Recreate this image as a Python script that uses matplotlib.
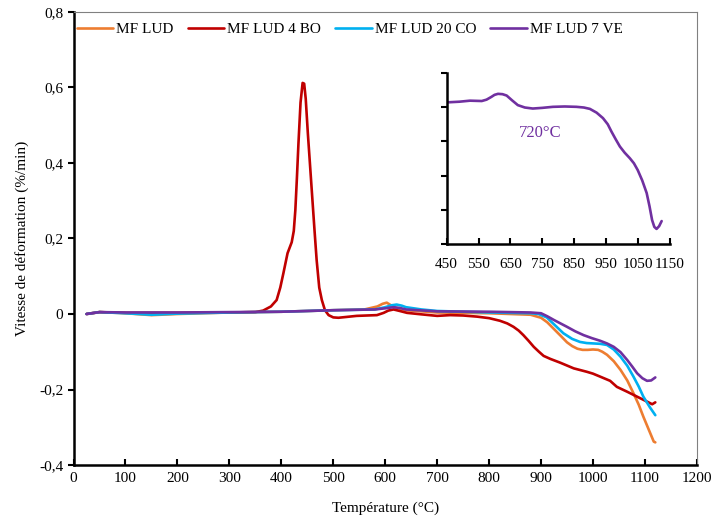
"""Vitesse de déformation des mélanges MF LUD en fonction de la température."""

import matplotlib
matplotlib.use("Agg")
import matplotlib.pyplot as plt
from matplotlib.ticker import FuncFormatter

# MF LUD
temp_lud = [25, 50, 100, 150, 200, 300, 400, 500, 560, 585, 595, 603, 610, 616, 640, 700, 800,
            880, 900, 912, 925, 938, 950, 960, 970, 980, 990, 1000, 1010, 1018, 1027, 1040, 1053,
            1066, 1078, 1088, 1097, 1107, 1117, 1120]
vit_lud = [0, 0.005, 0.002, -0.003, 0, 0.004, 0.006, 0.01, 0.012, 0.02, 0.027, 0.03, 0.024, 0.018,
           0.01, 0.004, 0.002, -0.002, -0.01, -0.022, -0.04, -0.058, -0.075, -0.085, -0.092,
           -0.095, -0.095, -0.094, -0.095, -0.1, -0.108, -0.125, -0.148, -0.176, -0.21, -0.24,
           -0.272, -0.305, -0.338, -0.34]

# MF LUD 4 BO
temp_bo = [25, 50, 100, 200, 300, 350, 365, 380, 391, 398, 404, 412, 420, 424, 427, 430, 433, 437,
           441, 444, 447, 451, 455, 459, 464, 468, 473, 478, 484, 491, 500, 510, 545, 584, 597,
           606, 616, 628, 642, 670, 700, 725, 750, 777, 800, 821, 835, 847, 857, 866, 876, 886,
           896, 905, 918, 937, 963, 988, 1000, 1014, 1033, 1046, 1066, 1085, 1104, 1114, 1120]
vit_bo = [0, 0.005, 0.003, 0.003, 0.004, 0.005, 0.009, 0.02, 0.037, 0.07, 0.108, 0.161, 0.19, 0.22,
          0.275, 0.36, 0.452, 0.56, 0.612, 0.61, 0.57, 0.48, 0.4, 0.32, 0.22, 0.143, 0.07, 0.037,
          0.01, -0.003, -0.009, -0.01, -0.005, -0.003, 0.003, 0.009, 0.012, 0.008, 0.003, -0.001,
          -0.005, -0.003, -0.004, -0.007, -0.011, -0.018, -0.025, -0.034, -0.044, -0.056, -0.071,
          -0.087, -0.1, -0.111, -0.119, -0.129, -0.144, -0.153, -0.158, -0.166, -0.177, -0.193,
          -0.206, -0.219, -0.232, -0.239, -0.234]

# MF LUD 20 CO
temp_co = [25, 50, 100, 150, 200, 300, 400, 500, 580, 600, 612, 622, 632, 640, 670, 700, 800, 880,
           895, 911, 927, 943, 960, 975, 988, 1001, 1014, 1027, 1040, 1053, 1066, 1078, 1088, 1097,
           1110, 1120]
vit_co = [0, 0.005, 0.002, -0.002, 0.001, 0.004, 0.006, 0.01, 0.012, 0.018, 0.023, 0.025, 0.022,
          0.018, 0.012, 0.008, 0.004, 0.002, 0, -0.009, -0.03, -0.051, -0.066, -0.074, -0.077,
          -0.078, -0.079, -0.082, -0.094, -0.113, -0.137, -0.166, -0.192, -0.219, -0.248, -0.268]

# MF LUD 7 VE
temp_ve = [25, 50, 100, 200, 300, 400, 500, 580, 600, 616, 628, 640, 700, 800, 880, 900, 912, 925,
           950, 966, 982, 998, 1014, 1027, 1040, 1053, 1066, 1076, 1085, 1095, 1104, 1112, 1120]
vit_ve = [0, 0.005, 0.004, 0.004, 0.005, 0.006, 0.01, 0.012, 0.015, 0.018, 0.016, 0.012, 0.007,
          0.006, 0.004, 0.002, -0.006, -0.016, -0.034, -0.046, -0.056, -0.064, -0.071, -0.078,
          -0.087, -0.101, -0.122, -0.14, -0.157, -0.17, -0.177, -0.176, -0.168]

# encart (MF LUD 7 VE, 450-1125 °C)
temp_zoom = [450, 490, 523, 560, 575, 590, 600, 611, 625, 638, 655, 673, 695, 720, 750, 783, 820,
             857, 880, 899, 920, 940, 955, 967, 980, 993, 1008, 1024, 1037, 1049, 1063, 1077,
             1086, 1094, 1101, 1108, 1116, 1124]
vit_zoom = [4.14, 4.16, 4.19, 4.18, 4.22, 4.3, 4.36, 4.39, 4.38, 4.34, 4.2, 4.06, 3.99, 3.96, 3.98,
            4.01, 4.02, 4.01, 3.99, 3.95, 3.84, 3.68, 3.5, 3.28, 3.06, 2.85, 2.67, 2.51, 2.36,
            2.16, 1.86, 1.49, 1.1, 0.70, 0.5, 0.44, 0.52, 0.67]

series = [
    ("MF LUD", temp_lud, vit_lud, "#ED7D31"),
    ("MF LUD 4 BO", temp_bo, vit_bo, "#C00000"),
    ("MF LUD 20 CO", temp_co, vit_co, "#00B0F0"),
    ("MF LUD 7 VE", temp_ve, vit_ve, "#7030A0"),
]

plt.rcParams["font.family"] = ["Liberation Serif", "DejaVu Serif"]
plt.rcParams["font.size"] = 11

fig = plt.figure(figsize=(7.14, 5.19), dpi=100)
ax = fig.add_axes([0.103, 0.104, 0.873, 0.873])

for label, temp, vit, color in series:
    ax.plot(temp, vit, color=color, lw=1.9, label=label, solid_capstyle="round",
            solid_joinstyle="round")

ax.set_xlim(0, 1200)
ax.set_ylim(-0.4, 0.8)
ax.set_xticks(range(0, 1201, 100))
ax.set_yticks([-0.4, -0.2, 0, 0.2, 0.4, 0.6, 0.8])
ax.yaxis.set_major_formatter(FuncFormatter(lambda v, _: "0" if abs(v) < 1e-9 else f"{v:.1f}".replace(".", ",")))
ax.tick_params(axis="x", direction="in", length=4, width=1.5, pad=5)
ax.tick_params(axis="y", direction="out", length=4, width=1.5)
ax.spines["left"].set_linewidth(1.8)
ax.spines["bottom"].set_linewidth(1.8)
for side in ("top", "right"):
    ax.spines[side].set_color("#808080")
    ax.spines[side].set_linewidth(0.8)

ax.set_xlabel("Température (°C)", labelpad=12)
ax.set_ylabel("Vitesse de déformation (%/min)", labelpad=7)

ax.legend(loc="upper left", bbox_to_anchor=(-0.012, 1.0), ncol=4, frameon=False,
          handlelength=2.4, handletextpad=0.2, columnspacing=0.9, borderaxespad=0.3)

# encart
ins = fig.add_axes([0.6256, 0.5299, 0.3127, 0.3295])
ins.plot(temp_zoom, vit_zoom, color="#7030A0", lw=1.9, solid_capstyle="round",
         solid_joinstyle="round")
ins.set_xlim(450, 1150)
ins.set_ylim(0, 5)
ins.set_xticks(range(450, 1151, 100))
ins.set_yticks(range(0, 6))
ins.set_yticklabels([])
ins.tick_params(axis="x", direction="in", length=4, width=1.5, pad=10)
ins.tick_params(axis="y", direction="out", length=4, width=1.5)
ins.spines["top"].set_visible(False)
ins.spines["right"].set_visible(False)
ins.spines["left"].set_linewidth(1.8)
ins.spines["bottom"].set_linewidth(1.8)
ins.text(742, 3.25, "720°C", color="#7030A0", fontsize=12, ha="center", va="center")

fig.savefig("out.png", dpi=100)
